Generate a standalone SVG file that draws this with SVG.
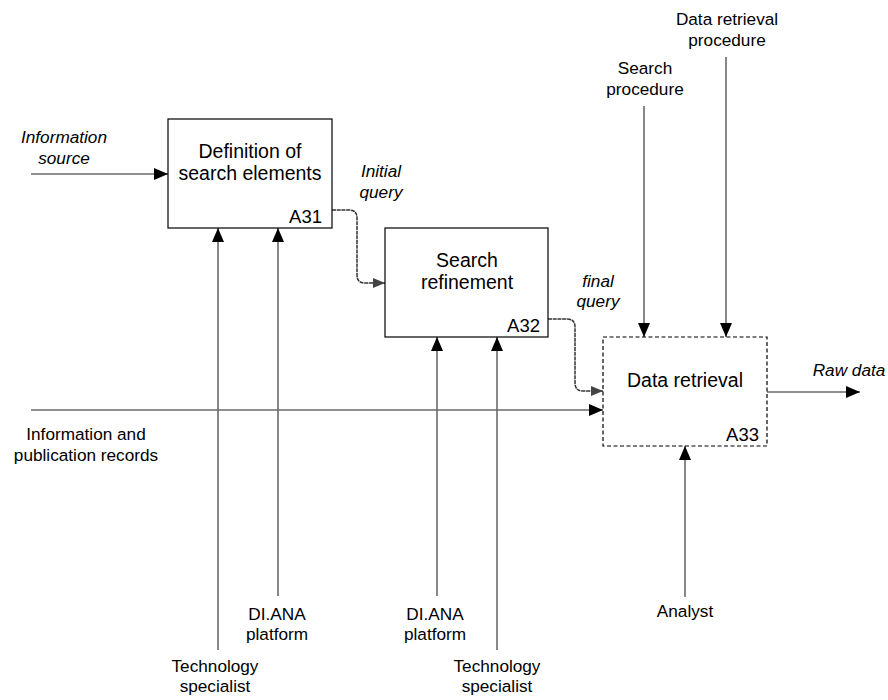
<svg xmlns="http://www.w3.org/2000/svg" width="888" height="700" viewBox="0 0 888 700">
  <defs>
    <marker id="arrow" markerUnits="userSpaceOnUse" markerWidth="14" markerHeight="12" refX="14" refY="6" orient="auto">
      <path d="M0,0 L14,6 L0,12 Z" fill="#000"/>
    </marker>
    <marker id="arrow-out" markerUnits="userSpaceOnUse" markerWidth="12" markerHeight="10" refX="12" refY="5" orient="auto">
      <path d="M0,0 L12,5 L0,10 Z" fill="#444"/>
    </marker>
    <style>
      .box { fill: #fff; stroke: #000; stroke-width: 1.2; }
      .box.dashed { stroke-dasharray: 4 2.5; }
      .title { font-family: "Liberation Sans", Arial, sans-serif; font-size: 19.5px; fill: #000; text-anchor: middle; }
      .num { font-family: "Liberation Sans", Arial, sans-serif; font-size: 18.5px; fill: #000; text-anchor: end; }
      .lbl { font-family: "Liberation Sans", Arial, sans-serif; font-size: 17.2px; fill: #000; text-anchor: middle; }
      .lbl.it { font-style: italic; }
      .arc { fill: none; stroke: #6a6a6a; stroke-width: 1.6; marker-end: url(#arrow); }
      .flow { fill: none; stroke: #333; stroke-width: 1.5; stroke-dasharray: 4 0.7; marker-end: url(#arrow-out); }
    </style>
  </defs>

  <!-- connectors -->
  <g id="connectors">
    <!-- inputs -->
    <path class="arc" d="M31,174 H168"/>
    <path class="arc" d="M31,410 H603"/>
    <!-- outputs between activities -->
    <path class="flow" d="M332,210 H349 Q357,210 357,218 V275 Q357,283 365,283 H385"/>
    <path class="flow" d="M548,319 H567 Q575,319 575,327 V383 Q575,391 583,391 H603"/>
    <!-- final output -->
    <path class="arc" d="M767,392 H860"/>
    <!-- controls -->
    <path class="arc" d="M644,106 V337"/>
    <path class="arc" d="M726,57 V337"/>
    <!-- mechanisms -->
    <path class="arc" d="M218,650 V228"/>
    <path class="arc" d="M278,596 V228"/>
    <path class="arc" d="M437,596 V337"/>
    <path class="arc" d="M497,650 V337"/>
    <path class="arc" d="M685,597 V446"/>
  </g>

  <!-- activity boxes -->
  <g id="A31">
    <rect class="box" x="168" y="119" width="164" height="109"/>
    <text class="title" x="250" y="158">Definition of</text>
    <text class="title" x="250" y="180">search elements</text>
    <text class="num" x="322" y="223">A31</text>
  </g>
  <g id="A32">
    <rect class="box" x="385" y="228" width="163" height="109"/>
    <text class="title" x="467" y="267">Search</text>
    <text class="title" x="467" y="289">refinement</text>
    <text class="num" x="540" y="332">A32</text>
  </g>
  <g id="A33">
    <rect class="box dashed" x="603" y="337" width="164" height="109"/>
    <text class="title" x="685" y="387">Data retrieval</text>
    <text class="num" x="759" y="441">A33</text>
  </g>

  <!-- arrow labels -->
  <g id="labels">
    <text class="lbl it" x="64" y="143">Information</text>
    <text class="lbl it" x="64" y="164">source</text>
    <text class="lbl" x="86" y="440">Information and</text>
    <text class="lbl" x="86" y="461">publication records</text>
    <text class="lbl it" x="381" y="177">Initial</text>
    <text class="lbl it" x="381" y="198">query</text>
    <text class="lbl it" x="598" y="287">final</text>
    <text class="lbl it" x="598" y="307">query</text>
    <text class="lbl it" x="849" y="376">Raw data</text>
    <text class="lbl" x="645" y="74">Search</text>
    <text class="lbl" x="645" y="95">procedure</text>
    <text class="lbl" x="727" y="25">Data retrieval</text>
    <text class="lbl" x="727" y="46">procedure</text>
    <text class="lbl" x="277" y="620">DI.ANA</text>
    <text class="lbl" x="277" y="640">platform</text>
    <text class="lbl" x="215" y="672">Technology</text>
    <text class="lbl" x="215" y="692">specialist</text>
    <text class="lbl" x="435" y="620">DI.ANA</text>
    <text class="lbl" x="435" y="640">platform</text>
    <text class="lbl" x="497" y="672">Technology</text>
    <text class="lbl" x="497" y="692">specialist</text>
    <text class="lbl" x="685" y="617">Analyst</text>
  </g>
</svg>
